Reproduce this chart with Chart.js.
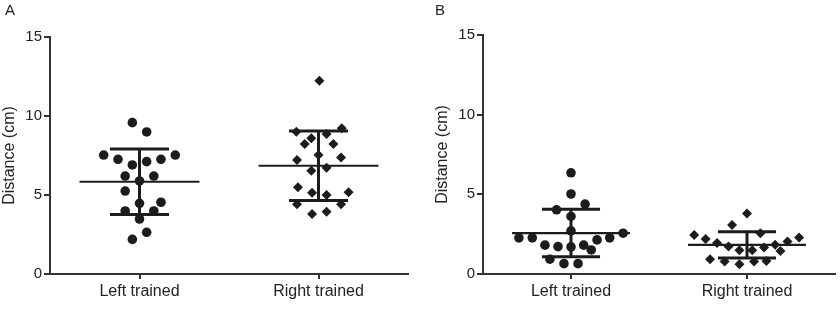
<!DOCTYPE html>
<html lang="en">
<head>
<meta charset="UTF-8" />
<title>Distance (cm) – left vs right trained</title>
<script src="https://cdn.jsdelivr.net/npm/chart.js"></script>
<style>
  html, body { margin: 0; padding: 0; background: #fff; }
  .row { display: flex; width: 840px; height: 312px; }
  .panel { position: relative; width: 420px; height: 312px; }
  .tag { position: absolute; font: 15px "Liberation Sans", Arial, sans-serif; color: #222; }
</style>
</head>
<body>
<div class="row">
  <div class="panel"><span class="tag" style="left:5px;top:1px">A</span><canvas id="chartA" width="420" height="312"></canvas></div>
  <div class="panel"><span class="tag" style="left:15px;top:1px">B</span><canvas id="chartB" width="420" height="312"></canvas></div>
</div>

<script>
  const categories = ["Left trained", "Right trained"];
  const yTicks = [0, 5, 10, 15];

  // panel A, values (cm) and horizontal jitter (category units)
  const leftA = [9.58, 8.99, 7.53, 7.53, 7.26, 6.90, 7.11, 7.26, 6.20, 6.20, 5.89, 5.25, 4.47, 4.54, 3.99, 3.99, 3.48, 2.64, 2.19];
  const leftAx = [-0.04, 0.04, -0.2, 0.2, -0.12, -0.04, 0.04, 0.12, -0.08, 0.08, 0, -0.08, 0, 0.12, -0.08, 0.08, 0, 0.04, -0.04];
  const rightA = [12.23, 9.01, 9.22, 8.59, 8.86, 8.23, 8.23, 7.53, 7.22, 7.38, 6.54, 6.73, 5.49, 5.15, 5.00, 5.17, 4.41, 4.41, 3.80, 3.94];
  const rightAx = [0.005, -0.124, 0.13, -0.04, 0.045, -0.077, 0.083, 0, -0.12, 0.126, -0.04, 0.045, -0.115, -0.036, 0.045, 0.168, -0.12, 0.126, -0.036, 0.045];
  const meanA = [5.84, 6.85];
  const sdA = [2.07, 2.2];

  // panel B
  const leftB = [6.35, 5.02, 4.03, 4.39, 3.61, 2.71, 2.56, 2.27, 2.27, 2.14, 2.27, 1.81, 1.72, 1.70, 1.81, 1.51, 0.93, 0.65, 0.65];
  const leftBx = [0, 0, -0.082, 0.08, 0, 0, 0.296, -0.296, -0.22, 0.148, 0.22, -0.148, -0.074, 0, 0.072, 0.115, -0.12, -0.04, 0.04];
  const rightB = [3.80, 3.07, 2.44, 2.19, 2.56, 2.29, 1.94, 2.04, 1.72, 1.83, 1.49, 1.49, 1.66, 1.45, 0.93, 0.78, 0.61, 0.78, 0.82];
  const rightBx = [0, -0.085, -0.3, -0.235, 0.076, 0.296, -0.17, 0.23, -0.105, 0.16, -0.043, 0.03, 0.097, 0.19, -0.21, -0.127, -0.043, 0.04, 0.11];
  const meanB = [2.57, 1.83];
  const sdB = [1.49, 0.82];

  const ink = "#1c1c1c";
  const font = '"Liberation Sans", Arial, sans-serif';

  function segment(x0, x1, y0, y1, w) {
    return {
      type: "scatter", showLine: true, pointRadius: 0,
      borderColor: ink, borderWidth: w,
      data: [{ x: x0, y: y0 }, { x: x1, y: y1 }]
    };
  }

  function build(id, groups, means, sds, padLeft, padRight, padTop) {
    const datasets = [];
    groups.forEach((g, k) => {
      const pos = k + 1;
      datasets.push({
        type: "scatter",
        data: g.vals.map((v, i) => ({ x: pos + g.offs[i], y: v })),
        pointStyle: g.style,
        pointRadius: g.style === "circle" ? 4.8 : 5,
        backgroundColor: ink, borderWidth: 0
      });
    });
    means.forEach((m, k) => {
      const pos = k + 1, hi = m + sds[k], lo = m - sds[k];
      datasets.push(segment(pos - 0.335, pos + 0.335, m, m, 2.2));
      datasets.push(segment(pos, pos, lo, hi, 3));
      datasets.push(segment(pos - 0.165, pos + 0.165, hi, hi, 3));
      datasets.push(segment(pos - 0.165, pos + 0.165, lo, lo, 3));
    });

    new Chart(document.getElementById(id), {
      type: "scatter",
      data: { datasets },
      options: {
        responsive: false,
        animation: false,
        layout: { padding: { left: padLeft, right: padRight, top: padTop, bottom: 0 } },
        plugins: { legend: { display: false }, tooltip: { enabled: false } },
        scales: {
          x: {
            type: "linear", min: 0.5, max: 2.5,
            afterBuildTicks: s => { s.ticks = [1, 2].map(v => ({ value: v })); },
            afterFit: s => { s.height = 38; },
            border: { display: true, color: "#333", width: 2 },
            grid: { display: true, drawOnChartArea: false, drawTicks: true, tickLength: 5, color: "#333", lineWidth: 2 },
            ticks: {
              color: "#222", padding: 3, maxRotation: 0,
              font: { family: font, size: 16 },
              callback: v => categories[Math.round(v) - 1]
            }
          },
          y: {
            min: 0, max: 15,
            afterBuildTicks: s => { s.ticks = yTicks.map(v => ({ value: v })); },
            afterFit: s => { s.width = 50; },
            border: { display: true, color: "#333", width: 2 },
            grid: { display: true, drawOnChartArea: false, drawTicks: true, tickLength: 6, color: "#333", lineWidth: 2 },
            ticks: { color: "#222", padding: 2, font: { family: font, size: 15 } },
            title: { display: true, text: "Distance (cm)", color: "#222", padding: 0, font: { family: font, size: 16 } }
          }
        }
      }
    });
  }

  build("chartA",
    [{ vals: leftA, offs: leftAx, style: "circle" }, { vals: rightA, offs: rightAx, style: "rectRot" }],
    meanA, sdA, 0, 12, 37);
  build("chartB",
    [{ vals: leftB, offs: leftBx, style: "circle" }, { vals: rightB, offs: rightBx, style: "rectRot" }],
    meanB, sdB, 13, 0, 35);
</script>
</body>
</html>
